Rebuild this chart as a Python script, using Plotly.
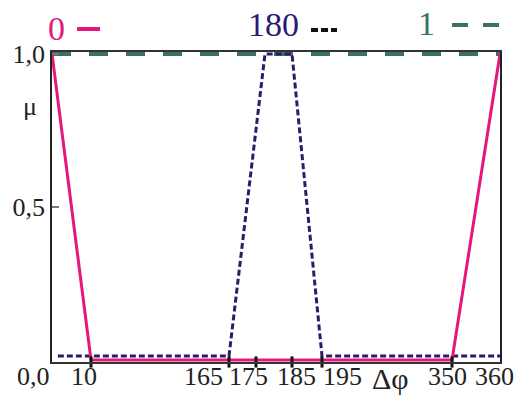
import numpy as np
import plotly.graph_objects as go

# Axis break points (degrees) and their display positions on the schematic axis
AXIS_DEG = [0, 10, 165, 175, 185, 195, 350, 360]
AXIS_POS = [0, 39, 177, 204, 240, 270, 400, 448]

# Series: membership functions mu(delta phi)
s0_x = [0, 10, 350, 360]
s0_y = [1, 0, 0, 1]
s180_x = [1.5, 165, 177.5, 185, 195, 360]
s180_y = [0.013, 0.013, 1, 1, 0.013, 0.013]
s1_x = [0, 360]
s1_y = [1, 1]

tick_deg = [10, 165, 175, 185, 195, 350]
xlabels = ["0,0", "10", "165", "175", "185", "195", "350", "360"]
xlabel_px = [33, 84, 203, 248, 296, 342, 447, 494]

PINK = "#e5177e"
NAVY = "#2a1b6e"
TEAL = "#3b7068"
FONT = "Liberation Serif"

def mp(d):
    return np.interp(d, AXIS_DEG, AXIS_POS)

L, R, T, B = 52, 500, 52, 362
W, H = R - L, B - T
def px(x):
    return (x - L) / W
def py(y):
    return (B - y) / H

YMIN, YMAX = -0.0065, 1.0065

fig = go.Figure()
fig.add_trace(go.Scatter(x=mp(s1_x), y=s1_y, mode="lines",
                         line=dict(color=TEAL, width=4, dash="19px,18px"), showlegend=False))
fig.add_trace(go.Scatter(x=mp(s180_x), y=s180_y, mode="lines",
                         line=dict(color=NAVY, width=3, dash="6px,3px"), showlegend=False))
fig.add_trace(go.Scatter(x=mp(s0_x), y=s0_y, mode="lines",
                         line=dict(color=PINK, width=3), showlegend=False))
# tick marks straddling the bottom axis
fig.add_trace(go.Scatter(x=mp(tick_deg), y=[YMIN] * len(tick_deg), mode="markers",
                         marker=dict(symbol="line-ns", size=8, line=dict(color="#111", width=3)),
                         cliponaxis=False, showlegend=False, hoverinfo="skip"))

def text_ann(txt, x, y, size, color="#222"):
    return dict(x=px(x), y=py(y), xref="paper", yref="paper", text=txt,
                showarrow=False, xanchor="center", yanchor="middle",
                font=dict(family=FONT, size=size, color=color))

ann = [text_ann(lab, xp, 376, 26) for lab, xp in zip(xlabels, xlabel_px)]
ann.append(text_ann("Δφ", 390, 378, 30))
ann.append(text_ann("μ", 30, 107, 26))
for txt, col, xx, yy in [("0", PINK, 56, 29), ("180", NAVY, 273, 25), ("1", TEAL, 426, 24)]:
    ann.append(text_ann(txt, xx, yy, 34, col))

shapes = [
    dict(type="line", xref="paper", yref="paper", x0=px(77), x1=px(100), y0=py(29), y1=py(29),
         line=dict(color=PINK, width=4)),
    dict(type="line", xref="paper", yref="paper", x0=px(311), x1=px(337), y0=py(30), y1=py(30),
         line=dict(color="#111", width=4, dash="7px,3px")),
    dict(type="line", xref="paper", yref="paper", x0=px(452), x1=px(500), y0=py(25), y1=py(25),
         line=dict(color=TEAL, width=4, dash="16px,15px")),
]

fig.update_layout(
    width=529, height=396, margin=dict(l=L, r=529 - R, t=T, b=396 - B),
    plot_bgcolor="white", paper_bgcolor="white",
    annotations=ann, shapes=shapes,
    xaxis=dict(range=[0, 448], showgrid=False, zeroline=False, showticklabels=False,
               showline=True, linecolor="#333", linewidth=1.5, mirror=True, ticks=""),
    yaxis=dict(range=[YMIN, YMAX], showgrid=False, zeroline=False,
               tickvals=[0.5, 1], ticktext=["0,5", "1,0"], ticks="inside", ticklen=7,
               tickcolor="#777", tickwidth=1.5,
               tickfont=dict(family=FONT, size=26, color="#222"),
               showline=True, linecolor="#222", linewidth=1.5, mirror=True),
)
fig.write_html("out.html", config={"displayModeBar": False},
               post_script="document.body.style.margin='0';document.body.style.overflow='hidden';")
